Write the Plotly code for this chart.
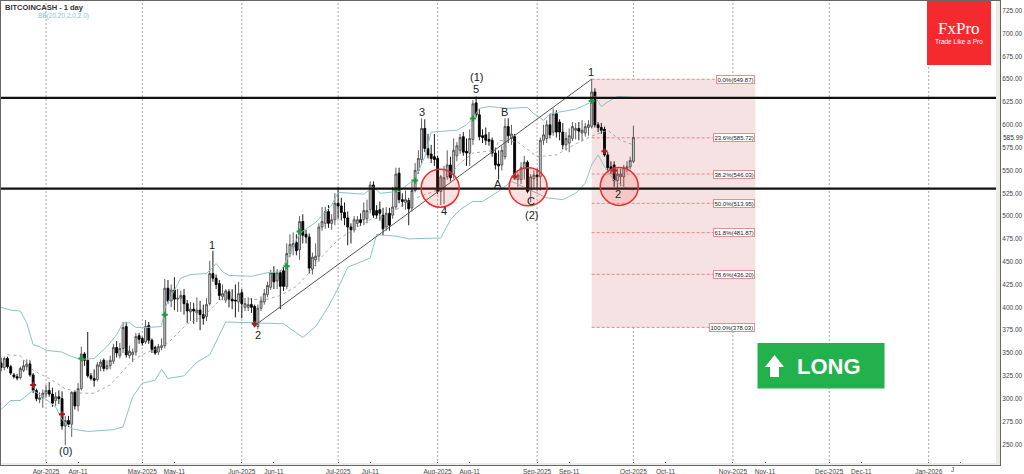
import pandas as pd
import plotly.graph_objects as go

# daily candles, first one is 2025-03-18
opens = [
    339, 334, 344, 335, 326, 324, 323, 331, 335, 338,
    326, 309, 299, 301, 305, 309, 305, 298, 302, 300,
    270, 276, 272, 307, 292, 311, 349, 342, 325, 322,
    321, 335, 342, 333, 336, 341, 356, 347, 355, 379,
    347, 348, 351, 369, 366, 362, 380, 364, 356, 351,
    356, 358, 421, 407, 419, 409, 410, 413, 404, 395,
    398, 394, 397, 392, 390, 404, 437, 432, 426, 412,
    408, 417, 409, 408, 406, 416, 400, 400, 403, 401,
    379, 399, 406, 414, 422, 438, 429, 438, 440, 423,
    459, 466, 471, 463, 494, 480, 477, 442, 452, 456,
    488, 492, 505, 492, 496, 514, 511, 504, 498, 488,
    485, 492, 496, 496, 497, 507, 534, 506, 507, 501,
    488, 503, 501, 510, 547, 518, 515, 517, 509, 528,
    550, 562, 596, 574, 568, 565, 563, 527, 530, 543,
    556, 546, 566, 572, 587, 571, 569, 584, 624, 611,
    588, 589, 584, 583, 569, 557, 556, 565, 598, 585,
    587, 540, 540, 552, 559, 528, 541, 545, 543, 583,
    585, 600, 592, 612, 603, 592, 578, 580, 585, 594,
    596, 591, 591, 597, 598, 636, 600, 597, 595, 567,
    554, 556, 539, 543, 543, 552, 554, 560,
]
highs = [
    345, 346, 346, 337, 328, 327, 335, 342, 343, 342,
    328, 311, 307, 310, 315, 318, 312, 307, 309, 308,
    281, 281, 308, 309, 317, 357, 351, 373, 328, 332,
    340, 343, 344, 342, 347, 360, 363, 361, 384, 384,
    358, 355, 372, 372, 368, 386, 384, 366, 358, 360,
    366, 431, 430, 425, 433, 420, 418, 420, 408, 406,
    405, 411, 407, 403, 410, 451, 462, 436, 430, 425,
    420, 420, 420, 425, 428, 420, 410, 411, 410, 403,
    403, 412, 420, 428, 441, 445, 442, 441, 444, 470,
    480, 482, 480, 500, 502, 485, 481, 460, 470, 492,
    510, 510, 512, 502, 525, 532, 520, 515, 505, 492,
    500, 500, 503, 515, 518, 538, 538, 512, 516, 509,
    510, 509, 532, 553, 553, 525, 528, 520, 540, 558,
    572, 607, 606, 590, 578, 590, 566, 545, 555, 572,
    565, 585, 581, 590, 592, 585, 595, 627, 631, 617,
    595, 597, 592, 586, 575, 572, 577, 607, 607, 600,
    590, 548, 559, 566, 561, 546, 550, 552, 586, 600,
    605, 612, 618, 616, 606, 602, 592, 596, 603, 602,
    603, 605, 602, 605, 650, 640, 603, 602, 598, 570,
    560, 560, 552, 552, 556, 560, 565, 599,
]
lows = [
    330, 331, 333, 326, 322, 320, 321, 329, 331, 324,
    306, 297, 295, 290, 301, 302, 291, 292, 294, 266,
    249, 269, 258, 288, 286, 309, 336, 323, 320, 313,
    319, 330, 330, 331, 332, 338, 345, 344, 350, 345,
    344, 340, 347, 360, 358, 360, 360, 350, 348, 348,
    353, 355, 404, 400, 397, 395, 395, 392, 383, 385,
    382, 384, 375, 381, 385, 402, 428, 420, 408, 408,
    405, 400, 398, 389, 395, 388, 396, 396, 394, 378,
    376, 396, 403, 411, 419, 420, 420, 398, 418, 420,
    455, 457, 457, 452, 470, 470, 437, 436, 445, 450,
    484, 486, 487, 485, 490, 497, 495, 490, 468, 470,
    482, 488, 489, 490, 492, 503, 498, 497, 495, 479,
    484, 484, 497, 507, 514, 510, 507, 490, 505, 526,
    546, 558, 570, 563, 558, 555, 524, 512, 513, 540,
    538, 541, 560, 568, 566, 555, 555, 578, 608, 583,
    580, 578, 577, 565, 551, 540, 550, 562, 580, 578,
    543, 532, 535, 540, 525, 515, 530, 528, 528, 578,
    580, 585, 588, 586, 583, 573, 572, 570, 582, 584,
    583, 582, 587, 588, 596, 597, 592, 590, 565, 548,
    546, 532, 530, 533, 532, 548, 551, 558,
]
closes = [
    334, 344, 335, 328, 324, 322.5, 333, 336, 338, 326,
    309, 300, 301, 306, 309, 305, 295, 302, 300, 270,
    276, 272, 307, 292, 311, 349, 342, 325, 322, 320,
    337, 340, 333, 336, 342, 356, 350, 355, 378, 348,
    352, 351, 368, 365, 361, 379, 364, 354, 350, 357,
    358, 421, 407, 419, 409, 410, 413, 404, 396, 398,
    396, 397, 392, 388, 403, 437, 432, 425, 413, 415,
    418, 409, 407, 407, 415, 404, 404, 403, 400, 380,
    399, 407, 415, 424, 438, 428, 438, 423, 423, 459,
    469, 470, 462, 494, 479, 477, 443, 455, 456, 488,
    494, 505, 492, 496, 514, 511, 504, 498, 488, 485,
    496, 496, 493, 506, 506, 534, 501, 501, 503, 486,
    503, 490, 510, 546, 518, 516, 518, 508, 528, 550,
    563, 596, 574, 567, 563, 562, 527, 543, 542, 556,
    542, 572, 577, 586, 570, 569, 585, 623, 611, 587,
    586, 583, 582, 569, 556, 555, 572, 598, 588, 590,
    545, 545, 553, 559, 527, 543, 545, 543, 583, 589,
    600, 589, 612, 592, 592, 578, 585, 588, 598, 596,
    593, 594, 598, 600, 636, 600, 597, 594, 567, 553,
    551, 539, 546, 546, 553, 554, 561, 586,
]

# bollinger bands: day number after 2025-03-18, price
upper_days = [0, 3, 6, 8, 10, 12, 14, 19, 22, 25, 29, 33, 36, 38, 40, 42, 46, 50, 51, 54, 56, 59, 64, 67,
              69, 71, 78, 83, 87, 90, 93, 98, 103, 105, 108, 113, 116, 118, 124, 129, 132, 134, 142, 145,
              147, 149, 152, 158, 164, 166, 169, 171, 174, 179, 184, 185, 187, 189, 192, 197]
upper_vals = [400, 397, 396, 383, 359, 357, 353, 351, 346, 343, 344, 357, 370, 383, 383, 378, 378, 379, 399,
              419, 432, 436, 437, 448, 439, 435, 434, 438, 439, 459, 481, 493, 512, 526, 525, 524, 532, 525,
              527, 541, 565, 592, 594, 600, 607, 618, 620, 618, 619, 612, 605, 612, 614, 617, 625, 631, 620,
              625, 631, 630]
lower_days = [0, 3, 6, 10, 13, 17, 19, 22, 27, 35, 38, 41, 44, 48, 50, 52, 57, 61, 65, 70, 79, 88, 94, 98,
              102, 105, 108, 112, 115, 117, 119, 123, 127, 137, 140, 143, 147, 150, 155, 159, 165, 168,
              170, 175, 179, 182, 184, 186, 188, 191, 194, 197]
lower_vals = [288, 298, 298, 309, 302, 291, 277, 267, 264, 266, 269, 302, 317, 320, 332, 322, 325, 340, 348,
              384, 383, 382, 367, 379, 401, 421, 444, 450, 454, 480, 479, 478, 475, 476, 496, 507, 516, 516,
              527, 538, 528, 523, 520, 518, 525, 536, 556, 567, 554, 539, 532, 528]
middle_days = [2, 6, 10, 15, 20, 25, 29, 34, 41, 45, 50, 52, 58, 63, 67, 70, 74, 82, 87, 92, 96, 99, 105, 111,
               115, 119, 124, 128, 137, 141, 143, 147, 154, 155, 161, 167, 173, 180, 185, 189, 193, 197]
middle_vals = [348, 347, 331, 322, 311, 306, 306, 315, 342, 350, 357, 361, 382, 390, 404, 413, 410, 408, 413,
               423, 438, 452, 474, 488, 496, 499, 509, 518, 530, 550, 558, 569, 572, 583, 581, 565, 567, 581,
               589, 594, 583, 578]

# small crosses on the candles
green_days = [25, 51, 89, 93, 123, 129, 147, 184]
green_vals = [344, 392, 445, 483, 529, 539, 607, 626]
red_days = [10, 19, 79, 160, 188, 191]
red_vals = [315, 283, 382, 543, 571, 550]

fib_levels = [649.87, 585.72, 546.03, 513.95, 481.87, 436.20, 378.03]
fib_names = ["0.0%", "23.6%", "38.2%", "50.0%", "61.8%", "78.6%", "100.0%"]
support_levels = [629.5, 530]
circle_days = [136.8, 164.2, 192.6]
circle_vals = [530.5, 532, 532.5]

month_ticks = ["2025-04-01", "2025-05-01", "2025-06-01", "2025-07-01", "2025-08-01", "2025-09-01",
               "2025-10-01", "2025-11-01", "2025-12-01", "2026-01-01"]
tick_vals = ["2025-04-01", "2025-04-11", "2025-05-01", "2025-05-11", "2025-06-01", "2025-06-11",
             "2025-07-01", "2025-07-11", "2025-08-01", "2025-08-11", "2025-09-01", "2025-09-11",
             "2025-10-01", "2025-10-11", "2025-11-01", "2025-11-11", "2025-12-01", "2025-12-11",
             "2026-01-01", "2026-01-11"]
tick_text = ["Apr-2025", "Apr-11", "May-2025", "May-11", "Jun-2025", "Jun-11", "Jul-2025", "Jul-11",
             "Aug-2025", "Aug-11", "Sep-2025", "Sep-11", "Oct-2025", "Oct-11", "Nov-2025", "Nov-11",
             "Dec-2025", "Dec-11", "Jan-2026", ""]

# text, pixel x, pixel y
wave_labels = [("(0)", 65, 451), ("1", 212, 245), ("2", 258, 335), ("3", 422, 112), ("4", 444, 211),
               ("5", 476, 89), ("(1)", 476, 77), ("A", 498, 184), ("B", 505, 112), ("C", 531, 201),
               ("(2)", 531, 215), ("1", 591, 72), ("2", 618, 194)]

W, H = 1024, 474
LEFT, TOP, RIGHT, BOTTOM = 1, 1, 1000, 465


def px(x):
    return (x - LEFT) / (RIGHT - LEFT)


def py(y):
    return 1 - (y - TOP) / (BOTTOM - TOP)


def day(n):
    return pd.Timestamp("2025-03-18") + pd.Timedelta(days=n)


def label(text, x, y, size, color, family="Liberation Sans", xanchor="center", **kw):
    fig.add_annotation(xref="paper", yref="paper", x=px(x), y=py(y), text=text, showarrow=False,
                       xanchor=xanchor, yanchor="middle",
                       font=dict(size=size, color=color, family=family), **kw)


dates = pd.date_range("2025-03-18", periods=len(opens), freq="D")

fig = go.Figure()

fig.add_trace(go.Candlestick(
    x=dates, open=opens, high=highs, low=lows, close=closes,
    increasing=dict(line=dict(color="#4d4d4d", width=0.9), fillcolor="#cfcfcf"),
    decreasing=dict(line=dict(color="#000000", width=0.9), fillcolor="#000000"),
    whiskerwidth=0, showlegend=False,
))
for days, vals, style in [
    (upper_days, upper_vals, dict(color="#8cc3c4", width=1)),
    (lower_days, lower_vals, dict(color="#8cc3c4", width=1)),
    (middle_days, middle_vals, dict(color="#8a9a98", width=0.8, dash="dot")),
]:
    fig.add_trace(go.Scatter(x=[day(d) for d in days], y=vals, mode="lines", line=style,
                             showlegend=False, hoverinfo="skip"))
fig.add_trace(go.Scatter(x=[day(d) for d in green_days], y=green_vals, mode="markers",
                         marker=dict(symbol="cross", size=5, color="#1f9a3a"), showlegend=False))
fig.add_trace(go.Scatter(x=[day(d) for d in red_days], y=red_vals, mode="markers",
                         marker=dict(symbol="cross", size=5, color="#a5191f"), showlegend=False))

# month grid
for m in month_ticks:
    fig.add_shape(type="line", x0=m, x1=m, yref="paper", y0=0, y1=1, layer="below",
                  line=dict(color="#a8a8a8", width=1, dash="2px,2px"))

# fibonacci box
fib_right = day(235)
fig.add_shape(type="rect", x0=day(184), x1=fib_right, y0=fib_levels[-1], y1=fib_levels[0], layer="below",
              line=dict(width=0), fillcolor="#f6e2e2")
for lvl, name in zip(fib_levels, fib_names):
    fig.add_shape(type="line", x0=day(184), x1=fib_right, y0=lvl, y1=lvl, layer="below",
                  line=dict(color="#e07070", width=0.8, dash="3px,2px"))
    fig.add_annotation(x=fib_right, y=lvl, xanchor="right", yanchor="middle", showarrow=False,
                       text=f"{name}({lvl:.2f})", font=dict(size=6, color="#222222"),
                       bgcolor="white", bordercolor="#e09090", borderwidth=1, borderpad=0.5)

# trend line
fig.add_trace(go.Scatter(x=[day(79), day(184)], y=[380, 650], mode="lines",
                         line=dict(color="#555555", width=1), showlegend=False, hoverinfo="skip"))

for lvl in support_levels:
    fig.add_shape(type="line", xref="paper", x0=0, x1=px(996), y0=lvl, y1=lvl,
                  line=dict(color="#111111", width=2.2))

for d, v in zip(circle_days, circle_vals):
    fig.add_shape(type="circle", xsizemode="pixel", ysizemode="pixel", xanchor=day(d), yanchor=v,
                  x0=-19, x1=19, y0=-19, y1=19,
                  line=dict(color="#ee2a2a", width=1.5), fillcolor="rgba(240,60,60,0.16)")

for text, x, y in wave_labels:
    label(text, x, y, 11, "#222222")

# strip between plot and axis
fig.add_shape(type="rect", xref="paper", yref="paper", x0=px(996), x1=1, y0=0, y1=1,
              line=dict(width=0), fillcolor="#ecece6")
fig.add_shape(type="rect", xref="paper", yref="paper", x0=0, x1=1, y0=0, y1=py(463),
              line=dict(width=0), fillcolor="#ecece6")

# FxPro logo
fig.add_shape(type="rect", xref="paper", yref="paper", x0=px(927), x1=px(991), y0=py(65), y1=1,
              line=dict(width=0), fillcolor="#f52a2e")
label("FxPro", 959, 29, 17, "white", family="Liberation Serif")
label("Trade Like a Pro", 959, 41, 6.5, "white")

# LONG badge
fig.add_shape(type="rect", xref="paper", yref="paper", x0=px(757.5), x1=px(884.5), y0=py(388.5), y1=py(343),
              line=dict(width=0), fillcolor="#23b14d")
arrow = [(774.5, 355), (784, 367), (779, 367), (779, 377), (770, 377), (770, 367), (765, 367)]
fig.add_shape(type="path", xref="paper", yref="paper", line=dict(width=0), fillcolor="white",
              path="M " + " L ".join(f"{px(a):.5f},{py(b):.5f}" for a, b in arrow) + " Z")
label("<b>LONG</b>", 829, 366, 22, "white")

# header texts
label("<b>BITCOINCASH - 1 day</b>", 3, 7, 7.5, "#333333", xanchor="left")
label("BB(20,20,2.0,2.0)", 36, 16, 6.5, "#8cc3c4", xanchor="left")

# last price tag and the cut off tick label
label("585.99", 1002, 137.5, 6.5, "#333333", xanchor="left", bgcolor="white", borderpad=0)
label("J", 952, 469.5, 6.5, "#444444")

fig.update_layout(
    width=W, height=H,
    margin=dict(l=LEFT, r=W - RIGHT, t=TOP, b=H - BOTTOM, pad=0, autoexpand=False),
    paper_bgcolor="white", plot_bgcolor="white",
    showlegend=False,
    font=dict(family="Liberation Sans", size=6.5, color="#444444"),
    boxgap=0.15,
)
fig.update_xaxes(
    type="date", range=["2025-03-17 23:30", "2026-01-23 05:00"], rangeslider_visible=False,
    tickmode="array", tickvals=tick_vals, ticktext=tick_text, tickangle=0, automargin=False,
    showgrid=False, ticks="inside", ticklen=3, tickcolor="#555555", tickwidth=1,
    showline=True, linecolor="#666666", linewidth=1, mirror=True, zeroline=False,
)
fig.update_yaxes(
    side="right", range=[227.3, 735.6], tickmode="linear", tick0=250, dtick=25, tickformat=".2f",
    automargin=False, showgrid=False, ticks="inside", ticklen=4, tickcolor="#555555", tickwidth=1,
    tickfont=dict(color="#444444"),
    minor=dict(ticks="inside", ticklen=2, dtick=12.5, tickcolor="#777777", showgrid=False),
    showline=True, linecolor="#666666", linewidth=1, mirror=True, zeroline=False,
)

fig.write_html("out.html", config=dict(displayModeBar=False),
               post_script="document.body.style.margin='0';document.body.style.overflow='hidden';")
